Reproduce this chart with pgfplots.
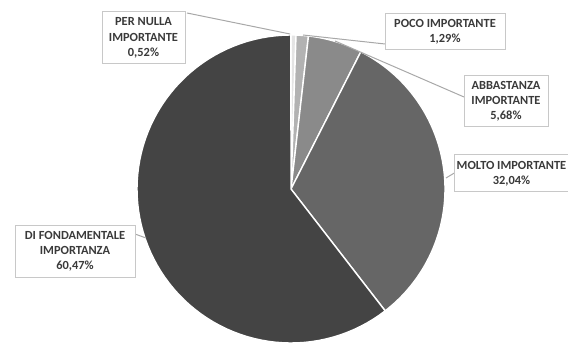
\documentclass[border=0pt]{standalone}
\usepackage{pgfplots}
\pgfplotsset{compat=1.18}
\usepackage{fontspec}
\setmainfont{Carlito}
\definecolor{sA}{HTML}{E4E4E4}
\definecolor{sB}{HTML}{B2B2B2}
\definecolor{sC}{HTML}{8A8A8A}
\definecolor{sD}{HTML}{666666}
\definecolor{sE}{HTML}{444444}
\definecolor{txt}{HTML}{3A3A3A}
\definecolor{boxc}{HTML}{C8C8C8}
\definecolor{lead}{HTML}{A8A8A8}
\tikzset{lbl/.style={draw=boxc, line width=0.5pt, fill=white, align=center, text=txt,
    font=\fontsize{6.2}{7.6}\selectfont\bfseries, inner sep=1pt}}
% #1 cumulative share before the slice (%), #2 share of the slice (%), #3 colour
\newcommand{\slice}[3]{%
  \addplot[fill=#3, draw=white, line width=0.7pt, samples at={-1,0,0.0125,...,1}, variable=\t]
  ({\t<0 ? 291 : 291 + 154*cos(90 - 3.6*(#1 + #2*\t))},
   {\t<0 ? 155 : 155 + 154*sin(90 - 3.6*(#1 + #2*\t))}) -- cycle;}
\begin{document}
\begin{tikzpicture}
\begin{axis}[
  scale only axis, width=284pt, height=172pt,
  xmin=0, xmax=568, ymin=0, ymax=344,
  hide axis, clip=false,
]
% values (%): 0.52, 1.29, 5.68, 32.04, 60.47
\slice{0}{0.52}{sA}
\slice{0.52}{1.29}{sB}
\slice{1.81}{5.68}{sC}
\slice{7.49}{32.04}{sD}
\slice{39.53}{60.47}{sE}
% leader lines
\draw[lead, line width=0.5pt] (axis cs:187,331) -- (axis cs:290,310);
\draw[lead, line width=0.5pt] (axis cs:303,309) -- (axis cs:385,300);
\draw[lead, line width=0.5pt] (axis cs:335,303) -- (axis cs:464,247);
\draw[lead, line width=0.5pt] (axis cs:446,166) -- (axis cs:456,172);
\draw[lead, line width=0.5pt] (axis cs:146,106) -- (axis cs:135,110);
% labels
\node[lbl, minimum width=41.5pt, minimum height=26pt] at (axis cs:143.5,306) {PER NULLA\\IMPORTANTE\\0,52\%};
\node[lbl, minimum width=60pt, minimum height=18pt] at (axis cs:445,312) {POCO IMPORTANTE\\1,29\%};
\node[lbl, minimum width=42pt, minimum height=25.5pt] at (axis cs:506,242.5) {ABBASTANZA\\IMPORTANTE\\5,68\%};
\node[lbl, minimum width=56pt, minimum height=18.5pt] at (axis cs:511.5,170.5) {MOLTO IMPORTANTE\\32,04\%};
\node[lbl, minimum width=60pt, minimum height=26pt] at (axis cs:75,93) {DI FONDAMENTALE\\IMPORTANZA\\60,47\%};
\end{axis}
\pgfresetboundingbox
\path (current axis.south west) rectangle (current axis.north east);
\end{tikzpicture}
\end{document}
